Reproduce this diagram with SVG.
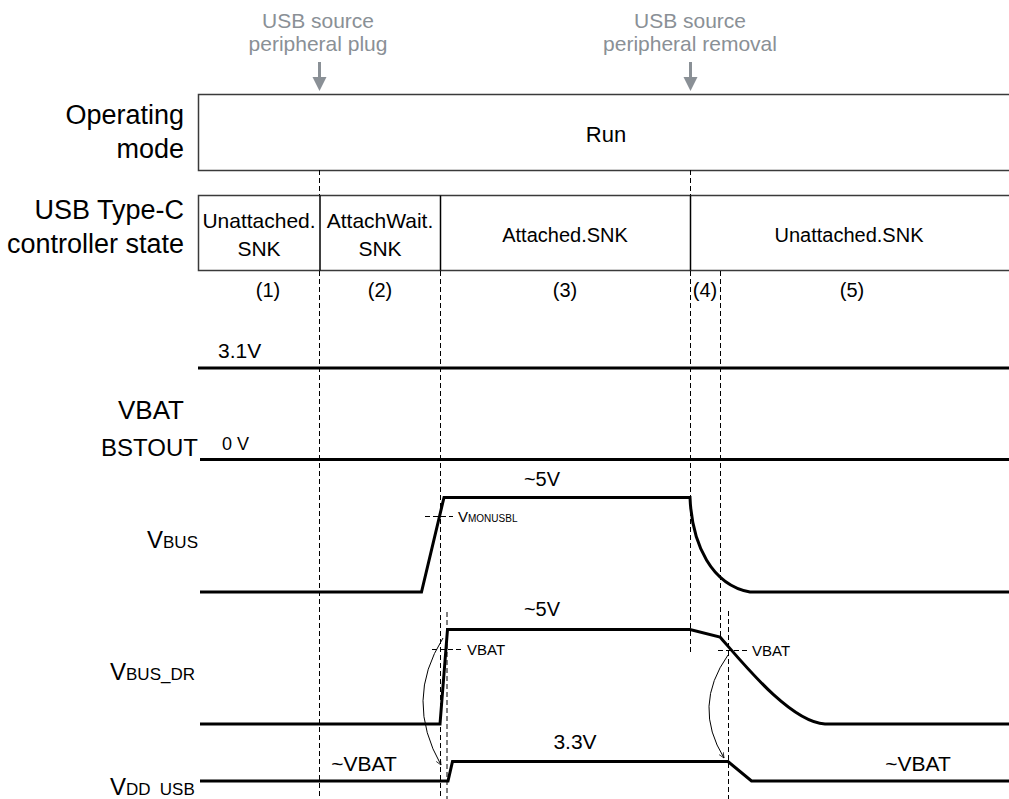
<svg xmlns="http://www.w3.org/2000/svg" width="1009" height="799" viewBox="0 0 1009 799">
  <style>
    text { font-family: "Liberation Sans", Arial, sans-serif; fill: #000; }
    .lbl { font-size: 27px; text-anchor: end; }
    .evt { font-size: 21px; fill: #8a9096; text-anchor: middle; }
    .st { font-size: 20px; text-anchor: middle; }
    .ph { font-size: 20px; text-anchor: middle; }
    .val { font-size: 21px; }
    .sm { font-size: 15px; }
    .box { fill: #fff; stroke: #3a3a3a; stroke-width: 1.5; }
    .div { stroke: #000; stroke-width: 1.5; }
    .dash { stroke: #000; stroke-width: 1; stroke-dasharray: 5 3; fill: none; }
    .sig { stroke: #000; stroke-width: 3; fill: none; stroke-linejoin: miter; }
    .thin { stroke: #000; stroke-width: 1; fill: none; }
    .garrow { stroke: #8a9096; stroke-width: 3; fill: none; }
  </style>
  <defs>
    <marker id="tip" viewBox="0 0 10 10" refX="9" refY="5" markerWidth="6" markerHeight="6" orient="auto" markerUnits="userSpaceOnUse">
      <path d="M0,1 L9,5 L0,9" fill="none" stroke="#000" stroke-width="1.2"/>
    </marker>
  </defs>
  <rect width="1009" height="799" fill="#fff"/>

  <!-- event markers -->
  <g id="evt-plug">
    <text class="evt" x="318" y="28">USB source</text>
    <text class="evt" x="318" y="51">peripheral plug</text>
    <line class="garrow" x1="319.5" y1="62" x2="319.5" y2="78"/>
    <polygon points="312.5,77 326.5,77 319.5,91" fill="#8a9096"/>
  </g>
  <g id="evt-removal">
    <text class="evt" x="690" y="28">USB source</text>
    <text class="evt" x="690" y="51">peripheral removal</text>
    <line class="garrow" x1="690.5" y1="62" x2="690.5" y2="78"/>
    <polygon points="683.5,77 697.5,77 690.5,91" fill="#8a9096"/>
  </g>

  <!-- operating mode row -->
  <g id="mode">
    <text class="lbl" x="184" y="124">Operating</text>
    <text class="lbl" x="184" y="158">mode</text>
    <rect class="box" x="198.5" y="94.5" width="830" height="76"/>
    <text class="st" x="606" y="142" style="font-size:22px">Run</text>
  </g>

  <!-- controller state row -->
  <g id="state">
    <text class="lbl" x="184" y="219">USB Type-C</text>
    <text class="lbl" x="184" y="253">controller state</text>
    <rect class="box" x="198.5" y="195.5" width="830" height="75"/>
    <line class="div" x1="320" y1="195.5" x2="320" y2="270.5"/>
    <line class="div" x1="440.5" y1="195.5" x2="440.5" y2="270.5"/>
    <line class="div" x1="690.5" y1="195.5" x2="690.5" y2="270.5"/>
    <text class="st" x="259" y="228" style="font-size:21px">Unattached.</text>
    <text class="st" x="259" y="256" style="font-size:21px">SNK</text>
    <text class="st" x="380" y="228" style="font-size:21px">AttachWait.</text>
    <text class="st" x="380" y="256" style="font-size:21px">SNK</text>
    <text class="st" x="565" y="242">Attached.SNK</text>
    <text class="st" x="849" y="242">Unattached.SNK</text>
  </g>

  <!-- phase numbers -->
  <g id="phases">
    <text class="ph" x="268" y="297">(1)</text>
    <text class="ph" x="380" y="297">(2)</text>
    <text class="ph" x="565" y="297">(3)</text>
    <text class="ph" x="705" y="297">(4)</text>
    <text class="ph" x="852" y="297">(5)</text>
  </g>

  <!-- timing guide lines -->
  <g id="connectors">
    <line class="dash" x1="319.5" y1="170" x2="319.5" y2="195"/>
    <line class="dash" x1="319.5" y1="271" x2="319.5" y2="799"/>
    <line class="dash" x1="440.5" y1="271" x2="440.5" y2="799"/>
    <line class="dash" x1="447" y1="612" x2="447" y2="799"/>
    <line class="dash" x1="690.5" y1="170" x2="690.5" y2="195"/>
    <line class="dash" x1="690.5" y1="271" x2="690.5" y2="652"/>
    <line class="dash" x1="720.5" y1="271" x2="720.5" y2="637"/>
    <line class="dash" x1="728.5" y1="611" x2="728.5" y2="799"/>
    <!-- threshold markers -->
    <line class="dash" x1="425" y1="516.5" x2="453" y2="516.5"/>
    <line class="dash" x1="432" y1="649.5" x2="462" y2="649.5"/>
    <line class="dash" x1="718" y1="650.5" x2="747" y2="650.5"/>
    <!-- VBAT crossing to VDD_USB switch -->
    <path class="thin" d="M443,638 Q404,700 441,765" marker-end="url(#tip)"/>
    <path class="thin" d="M728,655 Q692,706 724,758" marker-end="url(#tip)"/>
  </g>

  <!-- VBAT -->
  <g id="vbat">
    <text class="val" x="218" y="358">3.1V</text>
    <text class="lbl" x="184" y="419" style="font-size:26px">VBAT</text>
    <line class="sig" x1="198" y1="368" x2="1009" y2="368"/>
  </g>

  <!-- BSTOUT -->
  <g id="bstout">
    <text class="lbl" x="198" y="456" style="font-size:24px">BSTOUT</text>
    <text class="val" x="222" y="450" style="font-size:18px">0 V</text>
    <line class="sig" x1="200" y1="459.5" x2="1009" y2="459.5"/>
  </g>

  <!-- VBUS -->
  <g id="vbus">
    <text x="147" y="548" style="font-size:24px">V<tspan style="font-size:17px">BUS</tspan></text>
    <text class="val" x="542" y="486" text-anchor="middle" style="font-size:20px">~5V</text>
    <text x="458" y="522" style="font-size:15px">V<tspan style="font-size:10px">MONUSBL</tspan></text>
    <path class="sig" d="M200,592 L421.5,592 L444,497.5 L690,497.5 C692,545 712,585 750,592 L1009,592"/>
  </g>

  <!-- VBUS_DR -->
  <g id="vbus-dr">
    <text x="110" y="680" style="font-size:24px">V<tspan style="font-size:17px">BUS_DR</tspan></text>
    <text class="val" x="542" y="616" text-anchor="middle" style="font-size:20px">~5V</text>
    <text class="sm" x="467" y="655">VBAT</text>
    <text class="sm" x="752" y="656">VBAT</text>
    <path class="sig" d="M200,724 L440,724 L447.5,629.5 L690,629.5 L720,637 C742,662 790,722 825,724 L1009,724"/>
  </g>

  <!-- VDD_USB -->
  <g id="vdd-usb">
    <text x="110" y="795" style="font-size:24px">V<tspan style="font-size:17px">DD <tspan dx="4.5">USB</tspan></tspan></text>
    <text class="val" x="575" y="749" text-anchor="middle">3.3V</text>
    <text class="val" x="364" y="771" text-anchor="middle">~VBAT</text>
    <text class="val" x="918" y="771" text-anchor="middle">~VBAT</text>
    <path class="sig" d="M200,781 L448,781 L452.5,761.5 L728,761.5 L751.5,781 L1009,781"/>
  </g>
</svg>
